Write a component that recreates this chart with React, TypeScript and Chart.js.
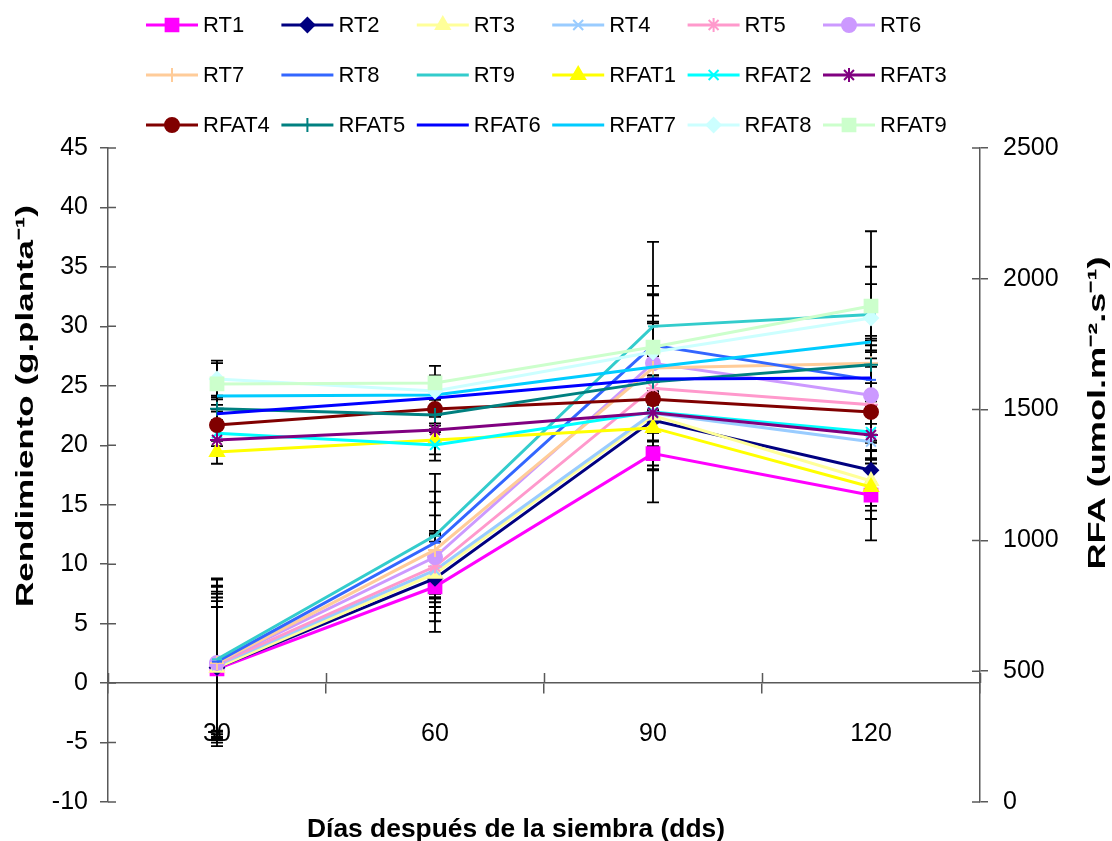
import React, { useEffect, useRef } from 'react';
import { Chart, registerables } from 'chart.js';
import { drawPoint } from 'chart.js/helpers';

Chart.register(...registerables);

// ---------- data ----------
const DAYS = ['30', '60', '90', '120'];
const YIELD_TICKS = [-10, -5, 0, 5, 10, 15, 20, 25, 30, 35, 40, 45];
const RFA_TICKS = [0, 500, 1000, 1500, 2000, 2500];

// Rendimiento (g.planta-1), left axis
const RT1 = [1.2, 8.1, 19.3, 15.8];
const RT2 = [1.3, 8.8, 22.1, 17.9];
const RT3 = [1.3, 9.2, 22.5, 17.0];
const RT4 = [1.5, 9.5, 22.7, 20.3];
const RT5 = [1.6, 9.8, 24.8, 23.4];
const RT6 = [1.7, 10.6, 26.9, 24.2];
const RT7 = [1.7, 11.2, 26.5, 26.9];
const RT8 = [1.8, 11.8, 28.4, 25.5];
const RT9 = [2.0, 12.4, 30.0, 31.0];

const RT1_ERR = [5.2, 3.8, 4.1, 3.8];
const RT2_ERR = [5.6, 3.6, 3.8, 3.0];
const RT3_ERR = [5.9, 3.3, 4.5, 3.2];
const RT4_ERR = [6.2, 3.1, 4.8, 3.4];
const RT5_ERR = [6.6, 3.0, 5.6, 3.9];
const RT6_ERR = [7.0, 3.5, 6.5, 4.6];
const RT7_ERR = [5.8, 4.0, 6.2, 4.3];
const RT8_ERR = [6.3, 4.3, 4.2, 3.7];
const RT9_ERR = [6.8, 5.2, 7.1, 7.0];

// RFA (umol.m-2.s-1), right axis
const RFAT1 = [1338, 1384, 1430, 1204];
const RFAT2 = [1410, 1365, 1491, 1414];
const RFAT3 = [1384, 1422, 1488, 1403];
const RFAT4 = [1441, 1502, 1540, 1491];
const RFAT5 = [1503, 1479, 1606, 1671];
const RFAT6 = [1484, 1544, 1617, 1621];
const RFAT7 = [1552, 1556, 1663, 1758];
const RFAT8 = [1617, 1571, 1720, 1850];
const RFAT9 = [1598, 1602, 1739, 1896];

const RFAT1_ERR = [45, 55, 70, 90];
const RFAT2_ERR = [50, 60, 80, 100];
const RFAT3_ERR = [55, 50, 75, 95];
const RFAT4_ERR = [60, 55, 90, 110];
const RFAT5_ERR = [50, 65, 85, 100];
const RFAT6_ERR = [55, 60, 95, 105];
const RFAT7_ERR = [60, 55, 100, 95];
const RFAT8_ERR = [70, 60, 110, 130];
const RFAT9_ERR = [80, 65, 120, 150];

// ---------- styles ----------
type Series = { label: string; data: number[]; err: number[]; axis: string; color: string; marker: string; r: number };
const SERIES: Series[] = [
  { label: 'RT1', data: RT1, err: RT1_ERR, axis: 'y', color: '#FF00FF', marker: 'rect', r: 9 },
  { label: 'RT2', data: RT2, err: RT2_ERR, axis: 'y', color: '#000080', marker: 'rectRot', r: 7 },
  { label: 'RT3', data: RT3, err: RT3_ERR, axis: 'y', color: '#FFFF99', marker: 'triangle', r: 8 },
  { label: 'RT4', data: RT4, err: RT4_ERR, axis: 'y', color: '#99CCFF', marker: 'crossRot', r: 7 },
  { label: 'RT5', data: RT5, err: RT5_ERR, axis: 'y', color: '#FF99CC', marker: 'star', r: 7 },
  { label: 'RT6', data: RT6, err: RT6_ERR, axis: 'y', color: '#CC99FF', marker: 'circle', r: 7 },
  { label: 'RT7', data: RT7, err: RT7_ERR, axis: 'y', color: '#FFCC99', marker: 'cross', r: 7 },
  { label: 'RT8', data: RT8, err: RT8_ERR, axis: 'y', color: '#3366FF', marker: 'line', r: 5 },
  { label: 'RT9', data: RT9, err: RT9_ERR, axis: 'y', color: '#33CCCC', marker: 'line', r: 5 },
  { label: 'RFAT1', data: RFAT1, err: RFAT1_ERR, axis: 'y1', color: '#FFFF00', marker: 'triangle', r: 8 },
  { label: 'RFAT2', data: RFAT2, err: RFAT2_ERR, axis: 'y1', color: '#00FFFF', marker: 'crossRot', r: 7 },
  { label: 'RFAT3', data: RFAT3, err: RFAT3_ERR, axis: 'y1', color: '#800080', marker: 'star', r: 7 },
  { label: 'RFAT4', data: RFAT4, err: RFAT4_ERR, axis: 'y1', color: '#800000', marker: 'circle', r: 7 },
  { label: 'RFAT5', data: RFAT5, err: RFAT5_ERR, axis: 'y1', color: '#008080', marker: 'cross', r: 7 },
  { label: 'RFAT6', data: RFAT6, err: RFAT6_ERR, axis: 'y1', color: '#0000FF', marker: 'circle', r: 0 },
  { label: 'RFAT7', data: RFAT7, err: RFAT7_ERR, axis: 'y1', color: '#00CCFF', marker: 'circle', r: 0 },
  { label: 'RFAT8', data: RFAT8, err: RFAT8_ERR, axis: 'y1', color: '#CCFFFF', marker: 'rectRot', r: 7 },
  { label: 'RFAT9', data: RFAT9, err: RFAT9_ERR, axis: 'y1', color: '#CCFFCC', marker: 'rect', r: 9 },
];

const FONT = '"Liberation Sans", Arial, sans-serif';
const AXIS_COLOR = '#595959';
const W = 1112;
const H = 841;

function drawStretched(ctx: CanvasRenderingContext2D, text: string, x: number, y: number, rot: number, len: number, font: string) {
  ctx.save();
  ctx.font = font;
  const w = ctx.measureText(text).width;
  ctx.translate(x, y);
  ctx.rotate(rot);
  ctx.scale(len / w, 1);
  ctx.textAlign = 'center';
  ctx.textBaseline = 'alphabetic';
  ctx.fillStyle = '#000';
  ctx.fillText(text, 0, 0);
  ctx.restore();
}

const errorBars = {
  id: 'errorBars',
  beforeDatasetsDraw(chart: any) {
    const ctx = chart.ctx;
    ctx.save();
    ctx.strokeStyle = '#000';
    ctx.lineWidth = 1.8;
    chart.data.datasets.forEach((ds: any, i: number) => {
      const meta = chart.getDatasetMeta(i);
      const scale = chart.scales[ds.yAxisID];
      const errs = SERIES[i].err;
      meta.data.forEach((pt: any, j: number) => {
        const v = ds.data[j];
        const e = errs[j];
        const yt = scale.getPixelForValue(v + e);
        const yb = scale.getPixelForValue(v - e);
        const x = pt.x;
        ctx.beginPath();
        ctx.moveTo(x, yt);
        ctx.lineTo(x, yb);
        ctx.moveTo(x - 6, yt);
        ctx.lineTo(x + 6, yt);
        ctx.moveTo(x - 6, yb);
        ctx.lineTo(x + 6, yb);
        ctx.stroke();
      });
    });
    ctx.restore();
  },
};

const innerTicks = {
  id: 'innerTicks',
  afterDraw(chart: any) {
    const { ctx, chartArea } = chart;
    const ys = chart.scales.y;
    const y1s = chart.scales.y1;
    const xs = chart.scales.x;
    ctx.save();
    ctx.strokeStyle = AXIS_COLOR;
    ctx.lineWidth = 1.5;
    ctx.beginPath();
    ys.ticks.forEach((_t: any, i: number) => {
      const p = ys.getPixelForTick(i);
      ctx.moveTo(chartArea.left, p);
      ctx.lineTo(chartArea.left + 8, p);
    });
    y1s.ticks.forEach((_t: any, i: number) => {
      const p = y1s.getPixelForTick(i);
      ctx.moveTo(chartArea.right - 8, p);
      ctx.lineTo(chartArea.right, p);
    });
    const y0 = ys.getPixelForValue(0);
    for (let k = 0; k <= DAYS.length; k++) {
      const px = Math.round(xs.getPixelForValue(k - 0.5)) + 0.5;
      ctx.moveTo(px, y0 - 10);
      ctx.lineTo(px, y0);
    }
    ctx.stroke();
    ctx.restore();
  },
};

const gridLegend = {
  id: 'gridLegend',
  afterDraw(chart: any) {
    const ctx = chart.ctx;
    ctx.save();
    chart.data.datasets.forEach((ds: any, i: number) => {
      const s = SERIES[i];
      const col = i % 6;
      const row = Math.floor(i / 6);
      const x0 = 146 + col * 135.4;
      const y = 25 + row * 50;
      ctx.strokeStyle = s.color;
      ctx.lineWidth = 3;
      ctx.beginPath();
      ctx.moveTo(x0, y);
      ctx.lineTo(x0 + 52, y);
      ctx.stroke();
      if (s.r > 0) {
        ctx.fillStyle = s.color;
        ctx.strokeStyle = s.color;
        ctx.lineWidth = 2;
        drawPoint(ctx, { pointStyle: s.marker as any, radius: s.r, rotation: 0, borderWidth: 2 }, x0 + 26, y);
      }
      ctx.fillStyle = '#000';
      ctx.font = '22px ' + FONT;
      ctx.textAlign = 'left';
      ctx.textBaseline = 'middle';
      ctx.fillText(ds.label, x0 + 57, y + 1);
    });
    ctx.restore();
  },
};

const axisTitles = {
  id: 'axisTitles',
  afterDraw(chart: any) {
    const ctx = chart.ctx;
    drawStretched(ctx, 'Rendimiento (g.planta\u207B\u00B9)', 33, 406, -Math.PI / 2, 402, 'bold 24px ' + FONT);
    drawStretched(ctx, 'RFA (umol.m\u207B\u00B2.s\u207B\u00B9)', 1105, 413, -Math.PI / 2, 313, 'bold 24px ' + FONT);
    drawStretched(ctx, 'Días después de la siembra (dds)', 516, 837, 0, 418, 'bold 26px ' + FONT);
  },
};

export default function App() {
  const ref = useRef<HTMLCanvasElement | null>(null);

  useEffect(() => {
    if (!ref.current) return;
    const datasets = SERIES.map((s, i) => ({
      label: s.label,
      data: s.data,
      yAxisID: s.axis,
      borderColor: s.color,
      backgroundColor: s.color,
      borderWidth: 3,
      tension: 0,
      pointStyle: s.marker as any,
      pointRadius: s.r,
      pointHoverRadius: s.r,
      pointBorderWidth: 2,
      pointBackgroundColor: s.color,
      pointBorderColor: s.color,
      order: SERIES.length - i,
    }));

    const tickFont = { family: FONT, size: 25 };
    const plain = (v: any) => String(v);
    const chart = new Chart(ref.current, {
      type: 'line',
      data: { labels: DAYS, datasets },
      options: {
        animation: false,
        responsive: true,
        maintainAspectRatio: false,
        layout: { padding: { left: 0, right: 0, top: 148, bottom: 39 } },
        plugins: {
          legend: { display: false },
          title: { display: false },
          tooltip: { enabled: false },
        },
        scales: {
          x: {
            type: 'category',
            position: { y: 0 } as any,
            offset: true,
            grid: { offset: true, drawOnChartArea: false, tickLength: 10, color: AXIS_COLOR, lineWidth: 1.5 },
            border: { color: AXIS_COLOR, width: 1.5 },
            ticks: { font: tickFont, color: '#000', padding: 26, maxRotation: 0 },
          },
          y: {
            type: 'linear',
            position: 'left',
            min: -10,
            max: 45,
            afterBuildTicks: (scale: any) => {
              scale.ticks = YIELD_TICKS.map((v) => ({ value: v }));
            },
            afterFit: (scale: any) => {
              scale.width = 108;
            },
            grid: { drawOnChartArea: false, tickLength: 8, color: AXIS_COLOR, lineWidth: 1.5 },
            border: { color: AXIS_COLOR, width: 1.5 },
            ticks: { font: tickFont, color: '#000', padding: 12, callback: plain },
          },
          y1: {
            type: 'linear',
            position: 'right',
            min: 0,
            max: 2500,
            afterBuildTicks: (scale: any) => {
              scale.ticks = RFA_TICKS.map((v) => ({ value: v }));
            },
            afterFit: (scale: any) => {
              scale.width = 132;
            },
            grid: { drawOnChartArea: false, tickLength: 8, color: AXIS_COLOR, lineWidth: 1.5 },
            border: { color: AXIS_COLOR, width: 1.5 },
            ticks: { font: tickFont, color: '#000', padding: 15, callback: plain },
          },
        },
      },
      plugins: [errorBars, innerTicks, gridLegend, axisTitles],
    });
    return () => chart.destroy();
  }, []);

  return (
    <div style={{ position: 'absolute', left: 0, top: 0, width: W, height: H, background: '#fff' }}>
      <canvas ref={ref} />
    </div>
  );
}
